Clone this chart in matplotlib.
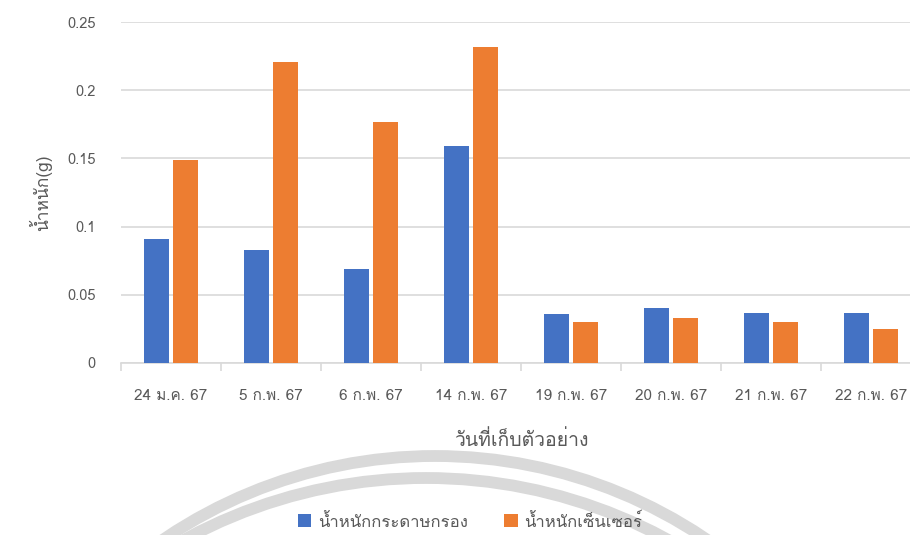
import numpy as np
import matplotlib
matplotlib.use("Agg")
import matplotlib.pyplot as plt
import matplotlib.font_manager as fm
from matplotlib.ft2font import FT2Font
from matplotlib.patches import Circle
from matplotlib.transforms import IdentityTransform

# data
dates = ["24 ม.ค. 67", "5 ก.พ. 67", "6 ก.พ. 67", "14 ก.พ. 67",
         "19 ก.พ. 67", "20 ก.พ. 67", "21 ก.พ. 67", "22 ก.พ. 67"]
paper_weight = [0.091, 0.083, 0.069, 0.159, 0.036, 0.040, 0.037, 0.037]
sensor_weight = [0.149, 0.221, 0.177, 0.232, 0.030, 0.033, 0.030, 0.025]
series_names = ["น้ำหนักกระดาษกรอง", "น้ำหนักเซ็นเซอร์"]
yticks = [0, 0.05, 0.1, 0.15, 0.2, 0.25]
ytick_labels = ["0", "0.05", "0.1", "0.15", "0.2", "0.25"]

# look for any installed font that has Thai glyphs
thai_font = None
for f in fm.fontManager.ttflist:
    try:
        if ord("ก") in FT2Font(f.fname).get_charmap():
            thai_font = f.name
            break
    except Exception:
        pass
families = [thai_font, "DejaVu Sans"] if thai_font else ["DejaVu Sans"]
plt.rcParams["font.family"] = families

txt = "#595959"
blue, orange = "#4472C4", "#ED7D31"

fig = plt.figure(figsize=(9.1, 5.35), dpi=100)
ax = fig.add_axes([121 / 910, 172 / 535, 800 / 910, 341 / 535])

x = np.arange(len(dates))
w = 0.25
ax.bar(x - 0.145, paper_weight, w, color=blue, label=series_names[0], zorder=3)
ax.bar(x + 0.145, sensor_weight, w, color=orange, label=series_names[1], zorder=3)

ax.set_xlim(-0.5, len(dates) - 0.5)
ax.set_ylim(0, 0.25)
ax.set_yticks(yticks)
ax.set_yticklabels(ytick_labels)
ax.set_xticks(x)
ax.set_xticklabels(dates)
ax.set_xticks(np.arange(len(dates)) - 0.5, minor=True)

ax.grid(axis="y", color="#d9d9d9", lw=1.2, zorder=0)
for s in ["top", "right", "left"]:
    ax.spines[s].set_visible(False)
ax.spines["bottom"].set_color("#d9d9d9")
ax.spines["bottom"].set_linewidth(1.2)
ax.tick_params(axis="y", length=0, pad=18, labelsize=10.5, labelcolor=txt)
ax.tick_params(axis="x", which="major", length=0, pad=19, labelsize=11, labelcolor=txt)
ax.tick_params(axis="x", which="minor", length=6, width=1.2, color="#d9d9d9")

ax.set_xlabel("วันที่เก็บตัวอย่าง", fontsize=14, color=txt, labelpad=19)
ax.set_ylabel("น้ำหนัก(g)", fontsize=12.5, color=txt, labelpad=11)

fig.legend(loc="center", bbox_to_anchor=(470 / 910, 13 / 535), ncol=2,
           frameon=False, fontsize=12, labelcolor=txt, handlelength=0.8,
           handleheight=0.8, columnspacing=2.2, handletextpad=0.4)

# faint watermark arcs at the bottom (pixel coords, origin bottom-left)
for cx, cy, r in ((435, 535 - 940, 484), (426, 535 - 983, 505)):
    fig.add_artist(Circle((cx, cy), r, fill=False, lw=8.5,
                          edgecolor="#d9d9d9", transform=IdentityTransform(),
                          zorder=0))

fig.savefig("out.png", dpi=100)
